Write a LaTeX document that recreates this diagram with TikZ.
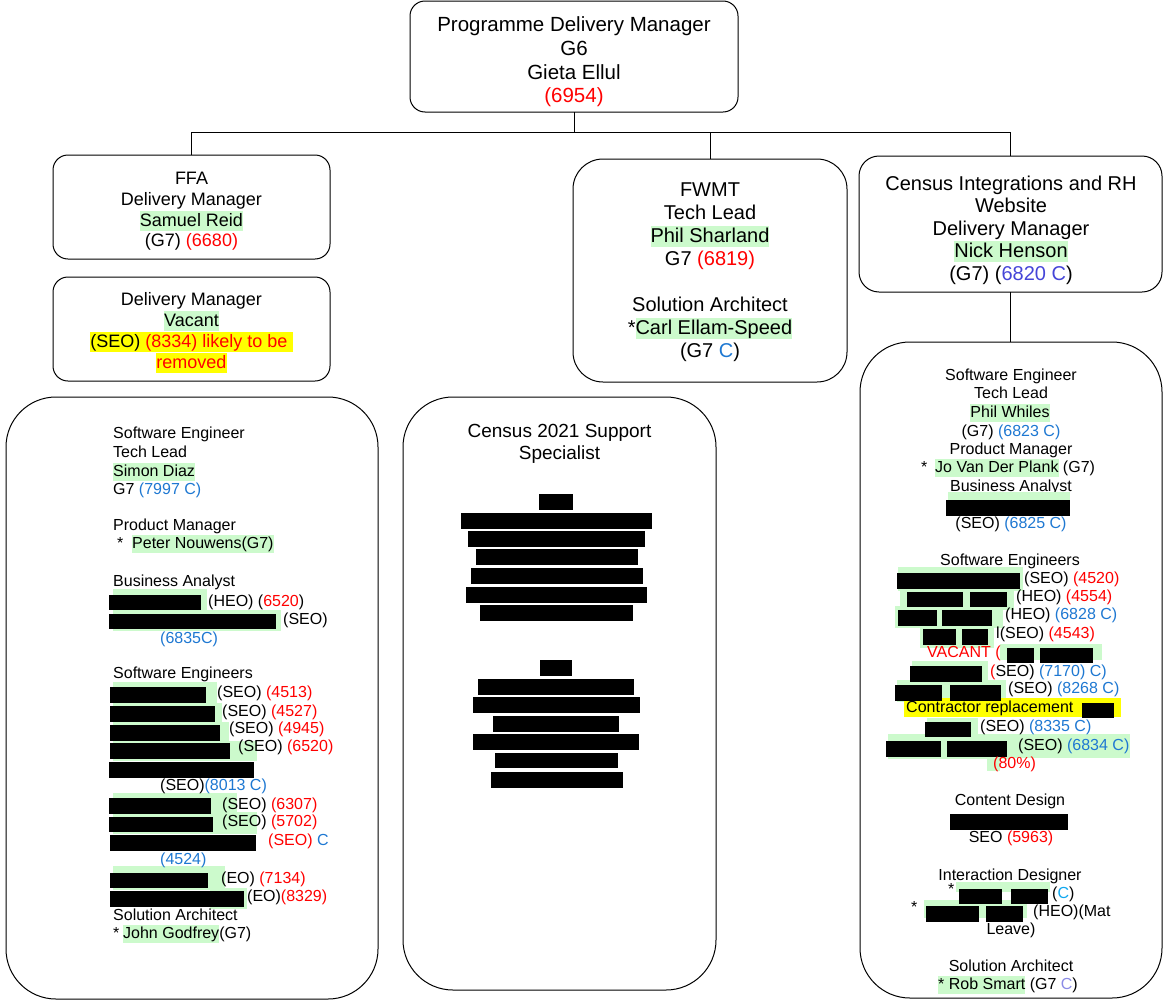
\documentclass[tikz,border=0pt]{standalone}
\usepackage{fontspec}
\setmainfont{Liberation Sans}
\definecolor{hlgreen}{HTML}{CCFACC}
\definecolor{cred}{HTML}{FF0000}
\definecolor{cblue}{HTML}{1E78D2}
\definecolor{cpurple}{HTML}{4545D8}
\definecolor{clav}{HTML}{8C8CE6}
\definecolor{ccyan}{HTML}{10A8F0}
\definecolor{hlyellow}{HTML}{FFFF00}
\newcommand\hlg[1]{{\setlength{\fboxsep}{0pt}\colorbox{hlgreen}{\rule[-0.24em]{0pt}{1.08em}#1}}}
\newcommand\hly[1]{{\setlength{\fboxsep}{0pt}\colorbox{hlyellow}{\rule[-0.24em]{0pt}{1.08em}#1}}}
\newcommand\rbar[4]{\fill[black] (#1,#2) rectangle (#3,#4);}
\newcommand\gbar[4]{\fill[hlgreen] (#1,#2) rectangle (#3,#4);}
\newcommand\red[1]{\textcolor{cred}{#1}}
\newcommand\blu[1]{\textcolor{cblue}{#1}}
\begin{document}
\begin{tikzpicture}[x=1pt,y=-1pt,
  box/.style={draw, line width=1pt, inner sep=0pt, outer sep=0pt},
  tw/.style={inner sep=0pt, anchor=west, font=\fontsize{16}{19}\selectfont, text height=14pt, text depth=2.5pt},
  tcn/.style={tw, anchor=center},
  multi/.style={inner sep=0pt, align=center}
]
\useasboundingbox (0,0) rectangle (1164,1001);
\fill[white] (0,0) rectangle (1164,1001);

% ---------- boxes ----------
\node[box, rounded corners=15pt, minimum width=328pt, minimum height=111pt] (top) at (574,56.5) {};
\node[box, rounded corners=15pt, minimum width=277pt, minimum height=104pt] (ffa) at (191.5,207) {};
\node[box, rounded corners=15pt, minimum width=277pt, minimum height=104pt] (vac) at (191.5,329) {};
\node[box, rounded corners=30pt, minimum width=274pt, minimum height=223pt] (fwmt) at (710,270.5) {};
\node[box, rounded corners=20pt, minimum width=303pt, minimum height=136pt] (cir) at (1010.5,224) {};
\node[box, rounded corners=50pt, minimum width=372pt, minimum height=602pt] (leftbig) at (192,698) {};
\node[box, rounded corners=50pt, minimum width=313pt, minimum height=593pt] (mid) at (559.5,693.5) {};
\node[box, rounded corners=50pt, minimum width=302pt, minimum height=656pt] (rightbig) at (1011,670) {};

% ---------- connectors ----------
\coordinate (bus) at (574,132);
\draw[line width=1pt] (top.south) -- (bus);
\draw[line width=1pt] (ffa.north) |- (bus);
\draw[line width=1pt] (cir.north) |- (bus);
\draw[line width=1pt] (fwmt.north) -- (fwmt.north |- bus);
\draw[line width=1pt] (cir.south) -- (cir.south |- rightbig.north);

% ---------- top-level texts ----------
\node[multi, font=\fontsize{20.5}{23.6}\selectfont] (toptxt) at (574,62) {Programme Delivery Manager\\G6\\Gieta Ellul\\\red{(6954)}};
\node[multi, font=\fontsize{18}{20.7}\selectfont] (ffatxt) at (191.5,211.5) {FFA\\Delivery Manager\\\hlg{Samuel Reid}\\(G7) \red{(6680)}};
\node[multi, font=\fontsize{18}{21}\selectfont] (vactxt) at (191.5,332.5) {Delivery Manager\\\hlg{Vacant}\\\hly{(SEO) \red{(8334) likely to be}\ }\\\hly{\red{removed}}};
\node[multi, font=\fontsize{20}{23}\selectfont] (fwmttxt) at (710,272) {FWMT\\Tech Lead\\\hlg{Phil Sharland}\\G7 \red{(6819)}\\[23pt]Solution Architect\\*\hlg{Carl Ellam-Speed}\\(G7 \blu{C})};
\node[multi, font=\fontsize{20}{22.5}\selectfont] (cirtxt) at (1011,230) {Census Integrations and RH\\Website\\Delivery Manager\\\hlg{Nick Henson}\\(G7) (\textcolor{cpurple}{6820 C})};
\node[multi, font=\fontsize{19}{22}\selectfont] (midtxt) at (559.5,444) {Census 2021 Support\\Specialist};

% ---------- middle box redactions ----------
\rbar{539}{494}{573}{510}
\rbar{461}{513}{652}{529}
\rbar{468}{531}{645}{547}
\rbar{476}{549}{638}{565}
\rbar{471}{568}{643}{584}
\rbar{466}{587}{647}{603}
\rbar{480}{605}{633}{621}
\rbar{540}{660}{572}{676}
\rbar{478}{679}{634}{695}
\rbar{473}{697}{640}{713}
\rbar{493}{716}{619}{732}
\rbar{473}{734}{639}{750}
\rbar{495}{753}{618}{768}
\rbar{491}{772}{623}{788}

% ---------- left box ----------
\node[tw] (l1) at (113,433) {Software Engineer};
\node[tw] (l2) at (113,452) {Tech Lead};
\node[tw] (l3) at (113,471) {\hlg{Simon Diaz}};
\node[tw] (l4) at (113,489) {G7 \blu{(7997 C)}};
\node[tw] (l5) at (113,525) {Product Manager};
\node[tw] (l6a) at (117,543) {*};
\node[tw] (l6b) at (132,543) {\hlg{Peter Nouwens(G7)}};
\node[tw] (l7) at (113,581) {Business Analyst};
\gbar{113}{589}{207}{612}
\gbar{113}{610}{281}{631}
\rbar{109}{595}{201}{610}
\rbar{109}{614}{276}{629}
\node[tw] (l8) at (208,601) {(HEO) (\red{6520})};
\node[tw] (l9) at (283,619) {(SEO)};
\node[tw] (l10) at (160,638) {\blu{(6835C)}};
\node[tw] (l11) at (113,673) {Software Engineers};
\gbar{113}{682}{217}{705}
\gbar{113}{703}{222}{724}
\gbar{113}{722}{229}{743}
\gbar{113}{741}{257}{761}
\gbar{113}{793}{237}{816}
\gbar{113}{812}{257}{834}
\gbar{113}{866}{225}{890}
\gbar{210}{888}{247}{909}
\rbar{110}{687}{206}{703}
\rbar{110}{706}{215}{722}
\rbar{110}{725}{220}{741}
\rbar{110}{743}{230}{759}
\rbar{109}{762}{254}{778}
\rbar{109}{798}{211}{814}
\rbar{109}{817}{213}{832}
\rbar{110}{835}{256}{851}
\rbar{110}{873}{208}{888}
\rbar{110}{891}{244}{907}
\node[tw] (l12) at (217,692) {(SEO) \red{(4513)}};
\node[tw] (l13) at (222,711) {(SEO) \red{(4527)}};
\node[tw] (l14) at (229,728) {(SEO) \red{(4945)}};
\node[tw] (l15) at (238,746) {(SEO) \red{(6520)}};
\node[tw] (l16) at (160,785) {(SEO)\blu{(8013 C)}};
\node[tw] (l17) at (222,804) {(SEO) \red{(6307)}};
\node[tw] (l18) at (222,821) {(SEO) \red{(5702)}};
\node[tw] (l19) at (268,840) {\red{(SEO)} \blu{C}};
\node[tw] (l20) at (160,859) {\blu{(4524)}};
\node[tw] (l21) at (221,878) {(EO) \red{(7134)}};
\node[tw] (l22) at (247,896) {(EO)\red{(8329)}};
\node[tw] (l23) at (113,915) {Solution Architect};
\node[tw] (l24a) at (113,933) {*};
\node[tw] (l24b) at (123,933) {\hlg{John Godfrey}(G7)};

% ---------- right box ----------
\node[tcn] (r1) at (1011,375) {Software Engineer};
\node[tcn] (r2) at (1011,393) {Tech Lead};
\node[tcn] (r3) at (1010,412) {\hlg{Phil Whiles}};
\node[tcn] (r4) at (1011,431) {(G7) \blu{(6823 C)}};
\node[tcn] (r5) at (1011,449) {Product Manager};
\node[tw] (r6a) at (921,467) {*};
\node[tw] (r6b) at (935,467) {\hlg{Jo Van Der Plank} (G7)};
\node[tcn] (r7) at (1011,486) {Business Analyst};
\gbar{948}{492}{1070}{500}
\rbar{946}{500}{1070}{516}
\node[tcn] (r8) at (1011,523) {(SEO) \blu{(6825 C)}};
\node[tcn] (r9) at (1010,560) {Software Engineers};
% green backgrounds
\gbar{898}{567}{1023}{591}
\gbar{900}{588}{1014}{610}
\gbar{895}{606}{1003}{628}
\gbar{920}{625}{994}{648}
\gbar{1000}{644}{1102}{660}
\gbar{912}{661}{988}{684}
\gbar{897}{680}{1006}{702}
\gbar{927}{718}{978}{740}
\gbar{888}{734}{1010}{759}
\gbar{1010}{734}{1130}{758}
\gbar{987}{757}{1000}{771}
\fill[hlyellow] (904,698) rectangle (1121,717);
\rbar{897}{573}{1020}{589}
\rbar{907}{592}{963}{607}
\rbar{970}{592}{1007}{607}
\rbar{898}{610}{937}{626}
\rbar{942}{610}{992}{626}
\rbar{923}{629}{956}{645}
\rbar{962}{629}{988}{645}
\rbar{1007}{648}{1034}{663}
\rbar{1040}{648}{1093}{663}
\rbar{910}{666}{982}{682}
\rbar{895}{685}{942}{701}
\rbar{950}{685}{1001}{701}
\rbar{1082}{703}{1114}{718}
\rbar{925}{722}{971}{737}
\rbar{886}{741}{941}{757}
\rbar{947}{741}{1007}{757}
\node[tw] (r10) at (1024,578) {(SEO) \red{(4520)}};
\node[tw] (r11) at (1016,596) {(HEO) \red{(4554)}};
\node[tw] (r12) at (1005,614) {(HEO) \blu{(6828 C)}};
\node[tw] (r13) at (996,633) {l(SEO) \red{(4543)}};
\node[tw] (r14) at (927,652) {\red{VACANT (}};
\node[tw] (r15) at (990,671) {\red{(}SEO) \blu{(7170) C)}};
\node[tw] (r16) at (1008,688) {(SEO) \blu{(8268 C)}};
\node[tw] (r17) at (906,707) {Contractor replacement};
\node[tw] (r18) at (980,726) {(SEO) \blu{(8335 C)}};
\node[tw] (r19) at (1018,745) {(SEO) \blu{(6834 C)}};
\node[tw] (r20) at (993,763) {\red{(80\%)}};
\node[tcn] (r21) at (1010,800) {Content Design};
\rbar{950}{814}{1068}{830}
\node[tcn] (r22) at (1011,837) {SEO \red{(5963)}};
\node[tcn] (r23) at (1010,875) {Interaction Designer};
\gbar{956}{882}{1050}{892}
\gbar{924}{900}{1027}{918}
\node[tw] (r24a) at (948,889) {*};
\rbar{959}{889}{1002}{904}
\rbar{1011}{889}{1048}{904}
\node[tw] (r24b) at (1052,893) {(\textcolor{ccyan}{C})};
\node[tw] (r25a) at (911,907) {*};
\rbar{926}{906}{979}{922}
\rbar{986}{906}{1023}{922}
\node[tw] (r25b) at (1033,911) {(HEO)(Mat};
\node[tcn] (r26) at (1011,929) {Leave)};
\node[tcn] (r27) at (1011,966) {Solution Architect};
\node[tw] (r28) at (938,984) {\hlg{* Rob Smart} (G7 \textcolor{clav}{C})};
\end{tikzpicture}
\end{document}
